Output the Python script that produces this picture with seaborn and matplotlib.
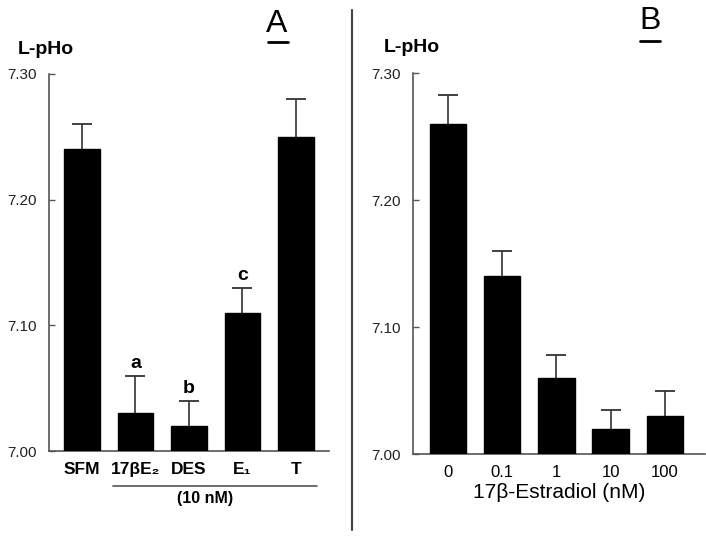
import numpy as np
import matplotlib
matplotlib.use("Agg")
import matplotlib.pyplot as plt
from matplotlib.lines import Line2D
import seaborn as sns

# Panel A: hormones at 10 nM
a_labels = ["SFM", "17βE₂", "DES", "E₁", "T"]
a_means = [7.24, 7.03, 7.02, 7.11, 7.25]
a_sem = [0.02, 0.03, 0.02, 0.02, 0.03]
a_marks = ["", "a", "b", "c", ""]

# Panel B: 17beta-estradiol dose
b_labels = ["0", "0.1", "1", "10", "100"]
b_means = [7.26, 7.14, 7.06, 7.02, 7.03]
b_sem = [0.023, 0.02, 0.018, 0.015, 0.02]

sns.set_style("ticks")
plt.rcParams['font.family'] = ['Liberation Sans', 'DejaVu Sans']
plt.rcParams['text.color'] = 'black'

fig = plt.figure(figsize=(7.06, 5.38), dpi=100)
axA = fig.add_axes([0.0694, 0.1617, 0.3966, 0.7008])
axB = fig.add_axes([0.585, 0.156, 0.4136, 0.708])

grey = "#555555"


def draw_panel(ax, labels, means, sem, xlim, bold_ticks, tick_size):
    sns.barplot(x=labels, y=means, color="black", edgecolor="black",
                width=0.67, saturation=1, ax=ax)
    for p in ax.patches:
        p.set_zorder(3)
    eb = ax.errorbar(np.arange(len(means)), means, yerr=sem, fmt="none",
                     ecolor="#333333", elinewidth=1.2, capsize=7,
                     capthick=1.3, zorder=2)
    # only the upper half is shown
    eb.lines[1][0].set_visible(False)
    ax.set_ylim(7.0, 7.30)
    ax.set_xlim(*xlim)
    ax.set_yticks([7.0, 7.1, 7.2, 7.3])
    ax.set_yticklabels(["7.00", "7.10", "7.20", "7.30"])
    sns.despine(ax=ax)
    for s in ["left", "bottom"]:
        ax.spines[s].set_color(grey)
        ax.spines[s].set_linewidth(1.2)
    ax.tick_params(axis="y", direction="in", length=4, width=1,
                   color=grey, pad=9, labelsize=11, labelcolor="#222222")
    ax.tick_params(axis="x", length=0, pad=8, labelsize=tick_size,
                   labelcolor="black")
    if bold_ticks:
        for t in ax.get_xticklabels():
            t.set_fontweight("bold")
    ax.set_xlabel("")
    ax.set_ylabel("")


draw_panel(axA, a_labels, a_means, a_sem, (-0.617, 4.617), True, 12.5)
draw_panel(axB, b_labels, b_means, b_sem, (-0.645, 4.74), False, 12)

# significance letters
for i, m in enumerate(a_marks):
    if m:
        axA.text(i, a_means[i] + a_sem[i] + 0.006, m, ha="center",
                 va="baseline", fontsize=14, fontweight="bold")

# bracket for the 10 nM group
trans = axA.get_xaxis_transform()
axA.plot([0.58, 4.39], [-0.093, -0.093], color=grey, lw=1.2,
         transform=trans, clip_on=False)
axA.text(2.3, -0.126, "(10 nM)", transform=trans, ha="center", va="center",
         fontsize=11.5, fontweight="bold")

axB.set_xlabel("17β-Estradiol (nM)", fontsize=15, labelpad=2, color="black")

# y labels above axes
fig.text(46 / 706, 1 - 50 / 538, "L-pHo", ha="center", va="center",
         fontsize=14, fontweight="bold")
fig.text(412 / 706, 1 - 47 / 538, "L-pHo", ha="center", va="center",
         fontsize=14, fontweight="bold")

# panel letters with underline
fig.text(277 / 706, 1 - 24 / 538, "A", ha="center", va="center", fontsize=23)
fig.add_artist(Line2D([268 / 706, 288 / 706], [1 - 42 / 538, 1 - 42 / 538],
                      color="black", lw=2))
fig.text(650 / 706, 1 - 21 / 538, "B", ha="center", va="center", fontsize=23)
fig.add_artist(Line2D([640 / 706, 660 / 706], [1 - 41 / 538, 1 - 41 / 538],
                      color="black", lw=2))

# divider between panels
fig.add_artist(Line2D([352 / 706, 352 / 706], [1 - 10 / 538, 1 - 530 / 538],
                      color="#444444", lw=1.5))

fig.savefig("out.png", dpi=100)
